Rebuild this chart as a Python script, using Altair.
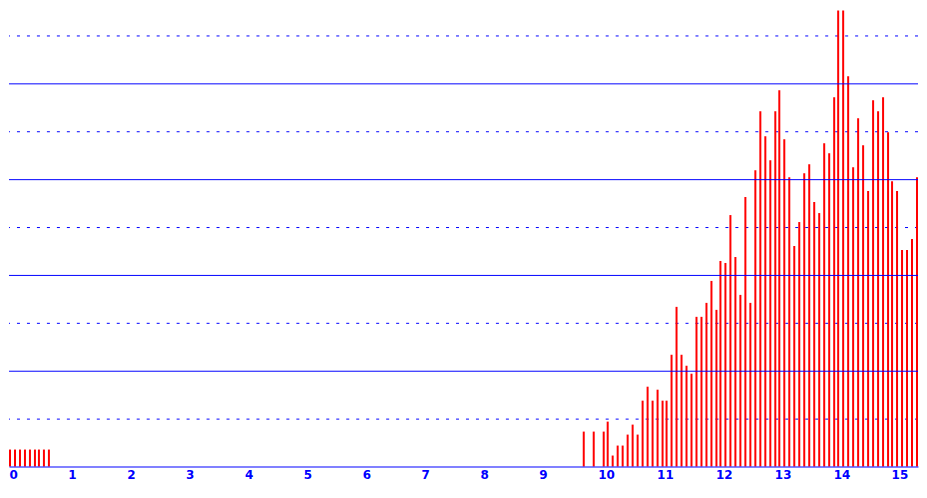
import altair as alt
import pandas as pd

BLUE = "#0000ff"
RED = "#ff0000"

# Bar slots: 12 slots per x-unit (slot / 12 = x value)
slots = [0, 1, 2, 3, 4, 5, 6, 7, 8,
         117, 119] + list(range(121, 186))

# Bar heights (10 units per grid line)
heights = [3.6, 3.6, 3.6, 3.6, 3.6, 3.6, 3.6, 3.6, 3.6,
           7.2, 7.2,
           7.2, 9.4, 2.2, 4.4, 4.4, 6.6, 8.8, 6.6, 13.8, 16.6,
           13.8, 16.0, 13.8, 13.8, 23.4, 33.4, 23.4, 21.0, 19.4, 31.2,
           31.2, 34.2, 38.8, 32.8, 43.0, 42.4, 52.6, 43.8, 35.8, 56.2,
           34.2, 61.8, 74.2, 69.0, 64.0, 74.2, 78.6, 68.4, 60.4, 46.0,
           51.0, 61.2, 63.2, 55.2, 53.0, 67.6, 65.4, 77.0, 95.2, 95.2,
           81.4, 62.6, 72.8, 67.0, 57.4, 76.4, 74.2, 77.0, 69.8, 59.6,
           57.4, 45.2, 45.2, 47.4, 60.4]

x_ticks = list(range(0, 16))
dotted_levels = [10, 30, 50, 70, 90]
solid_levels = [20, 40, 60, 80]

bars_df = pd.DataFrame({"slot": slots, "h": heights})
bars_df["x"] = bars_df["slot"] / 12.0
dotted_df = pd.DataFrame({"level": dotted_levels})
solid_df = pd.DataFrame({"level": solid_levels})

x_scale = alt.Scale(domain=[0, 15.45], nice=False, zero=False, round=True)
y_scale = alt.Scale(domain=[0, 95.625], nice=False, zero=True, round=True)

dotted = alt.Chart(dotted_df).mark_rule(
    color=BLUE, strokeWidth=1, strokeDash=[3, 7], yOffset=0.5
).encode(y=alt.Y("level:Q", scale=y_scale, axis=None))

bars = alt.Chart(bars_df).mark_rule(color=RED, strokeWidth=2, xOffset=1).encode(
    x=alt.X(
        "x:Q",
        scale=x_scale,
        axis=alt.Axis(
            values=x_ticks,
            title=None,
            grid=False,
            ticks=False,
            labelAlign="left",
            labelColor=BLUE,
            labelFont="DejaVu Sans",
            labelFontWeight="bold",
            labelFontSize=12,
            labelPadding=3,
            labelFlush=False,
            labelOverlap=False,
            domainColor=BLUE,
            domainWidth=1,
            zindex=1,
        ),
    ),
    y=alt.Y("h:Q", scale=y_scale, axis=None),
    y2=alt.datum(0),
)

solid = alt.Chart(solid_df).mark_rule(
    color=BLUE, strokeWidth=1, yOffset=0.5
).encode(y=alt.Y("level:Q", scale=y_scale, axis=None))

chart = (
    alt.layer(dotted, bars, solid)
    .properties(width=911, height=459, padding=0, background="white")
    .configure_view(strokeWidth=0)
)

chart.save("out.html", embed_options={"renderer": "svg", "actions": False})
